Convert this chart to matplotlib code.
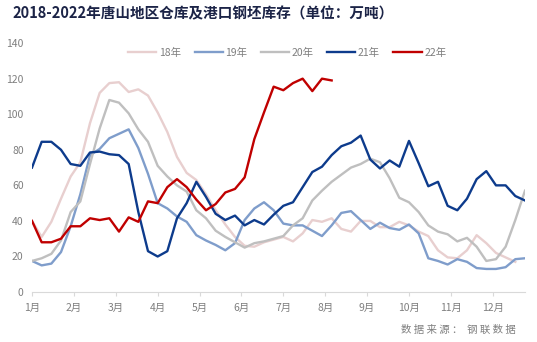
import numpy as np
import matplotlib
matplotlib.use("Agg")
import matplotlib.pyplot as plt

plt.rcParams['font.family'] = ['Noto Sans CJK SC', 'DejaVu Sans']

# weekly stock, 10k tonnes
months = ['1月', '2月', '3月', '4月', '5月', '6月', '7月', '8月', '9月', '10月', '11月', '12月']
labels = ['18年', '19年', '20年', '21年', '22年']
colors = ['#e8cfcf', '#7f9dcb', '#bfbfbf', '#0d3b8c', '#c00000']

y18 = [40, 31, 39.5, 52.5, 65, 73, 95, 112, 117.5, 118, 112.5, 114, 110.5, 101, 90, 76, 67, 63,
       55, 46, 38, 31, 26, 25.5, 28, 29.5, 31, 28.5, 33, 40.5, 39.5, 41.5, 35.5, 34, 40, 40,
       36.5, 36.5, 39.5, 37.5, 34, 31.5, 23.5, 19.5, 19, 23.5, 32, 27.5, 22, 19.5, 17, np.nan]
y19 = [17.5, 15, 16, 22.5, 37, 55, 77, 80.5, 86.5, 89, 91.5, 81, 66.5, 50, 47, 42.5, 39.5, 32,
       29, 26.5, 23.5, 27.5, 40.5, 47, 50.5, 46, 38.5, 37.5, 37.5, 34.5, 31.5, 37.5, 44.5, 45.5,
       40.5, 35.5, 39, 36, 35, 38, 33, 19, 17.5, 15.5, 18.5, 17, 13.5, 13, 13, 14, 18.5, 19]
y20 = [17.5, 19, 21.5, 29, 45, 51, 72, 92, 108, 106.5, 100.5, 91.5, 84.5, 71, 65, 60, 56.5, 46,
       41.5, 34.5, 31, 28, 25, 27.5, 28.5, 30, 31.5, 37.5, 41.5, 51.5, 57, 62, 66, 70, 72, 75,
       73, 64, 53, 50.5, 45, 37.5, 34, 32.5, 28.5, 30.5, 25.5, 17.5, 18.5, 25.5, 40.5, 57]
y21 = [70, 84.5, 84.5, 80, 72, 71, 78.5, 79, 77.5, 77, 72, 45, 23, 20, 23, 41.5, 50, 62, 53.5,
       44, 40.5, 43, 37.5, 40.5, 38, 43.5, 48.5, 50.5, 59, 67.5, 70.5, 77, 82, 84, 88, 74.5,
       69.5, 74, 70.5, 85, 72.5, 59.5, 62, 48.5, 46, 52.5, 63.5, 68, 60, 60, 54, 51.5]
y22 = [40, 28, 28, 30, 37, 37, 41.5, 40.5, 41.5, 34, 42, 39.5, 51, 50, 59, 63.5, 59, 52, 46,
       49.5, 56, 58, 64.5, 86, 101, 115.5, 113.5, 117.5, 120, 113, 120, 119]

series = [y18, y19, y20, y21, y22]

fig = plt.figure(figsize=(5.37, 3.42), dpi=100)
ax = fig.add_axes([0.0596, 0.146, 0.918, 0.728])

for ys, lab, c in zip(series, labels, colors):
    ax.plot(np.arange(len(ys)), ys, color=c, lw=1.7, label=lab)

ax.set_xlim(0, 51)
ax.set_ylim(0, 140)
ax.set_yticks(range(0, 141, 20))
ax.set_xticks(np.arange(12) * 52 / 12)
ax.set_xticklabels(months)
for s in ['top', 'right', 'left']:
    ax.spines[s].set_visible(False)
ax.spines['bottom'].set_color('#d9d9d9')
ax.tick_params(axis='y', length=0, labelsize=7.5, labelcolor='#7f7f7f', pad=6)
ax.tick_params(axis='x', length=3, color='#d9d9d9', labelsize=7.5, labelcolor='#7f7f7f', pad=5)

fig.legend(loc='center', bbox_to_anchor=(0.535, 0.845), ncol=5, frameon=False,
           fontsize=7.5, handlelength=2.7, handletextpad=0.25, columnspacing=1.3,
           labelcolor='#7f7f7f')

fig.text(0.024, 0.962, '2018-2022年唐山地区仓库及港口钢坯库存（单位：万吨）', fontsize=10.5,
         fontweight='bold', color='#1c2447', va='center', ha='left')
fig.text(0.96, 0.035, '数 据 来 源 ：  钢 联 数 据', fontsize=7.5, color='#7f7f7f',
         ha='right', va='center')

fig.savefig('out.png', dpi=100)
